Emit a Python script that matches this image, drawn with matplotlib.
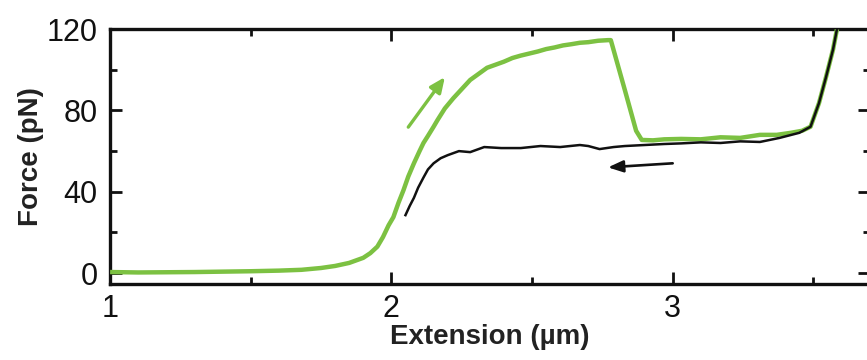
import numpy as np
import matplotlib.pyplot as plt
from matplotlib.ticker import MultipleLocator

plt.rcParams['font.family'] = ['Liberation Sans', 'DejaVu Sans']

# stretching curve (green)
stretch_x = [1.00, 1.10, 1.20, 1.30, 1.40, 1.50, 1.60, 1.68, 1.75, 1.80, 1.85, 1.90, 1.925,
             1.95, 1.97, 1.99, 2.007, 2.025, 2.043, 2.06, 2.08, 2.10, 2.114, 2.13, 2.15,
             2.164, 2.19, 2.22, 2.25, 2.28, 2.31, 2.34, 2.37, 2.40, 2.43, 2.46, 2.49,
             2.52, 2.55, 2.58, 2.61, 2.64, 2.67, 2.70, 2.735, 2.77, 2.78, 2.83, 2.87,
             2.89, 2.93, 2.97, 3.03, 3.10, 3.17, 3.24, 3.31, 3.37, 3.42, 3.46, 3.49,
             3.52, 3.545, 3.57, 3.584]
stretch_y = [0.5, 0.3, 0.4, 0.5, 0.7, 0.9, 1.2, 1.6, 2.5, 3.5, 5.0, 7.5, 9.8,
             13.0, 17.7, 23.5, 27.5, 34.5, 40.8, 47.5, 54.0, 60.0, 64.0, 67.5, 72.0,
             75.3, 81.0, 86.0, 90.5, 95.0, 98.0, 101.0, 102.5, 104.0, 105.8, 107.0, 108.0,
             109.0, 110.2, 111.0, 112.0, 112.6, 113.3, 113.6, 114.3, 114.6, 114.6, 90.0, 70.0,
             65.5, 65.3, 65.8, 66.0, 65.8, 66.8, 66.5, 68.0, 68.0, 69.0, 70.0, 72.0,
             83.6, 96.4, 110.0, 120.0]

# relaxation curve (black)
relax_x = [3.584, 3.57, 3.545, 3.52, 3.49, 3.45, 3.38, 3.31, 3.24, 3.17, 3.10, 3.03,
           2.97, 2.90, 2.83, 2.79, 2.74, 2.70, 2.67, 2.60, 2.53, 2.46, 2.39, 2.33,
           2.28, 2.24, 2.20, 2.175, 2.15, 2.13, 2.114, 2.095, 2.08, 2.065, 2.05]
relax_y = [120.0, 110.0, 96.4, 83.6, 72.0, 69.0, 66.5, 64.5, 64.8, 64.0, 64.3, 63.8,
           63.5, 63.0, 62.5, 62.0, 61.0, 62.5, 63.0, 62.0, 62.5, 61.5, 61.5, 62.0,
           59.5, 60.0, 58.0, 56.5, 54.0, 51.0, 47.0, 42.0, 37.0, 33.0, 28.5]

# direction arrows (tail, head) in data units
green_arrow = [(2.06, 71.8), (2.19, 96.4)]
black_arrow = [(3.00, 54.0), (2.77, 52.0)]

x_major = [1, 2, 3]
y_major = [0, 40, 80, 120]

green = '#7cc142'

fig = plt.figure(figsize=(8.67, 3.6), dpi=100)
ax = fig.add_axes([0.127, 0.211, 0.876, 0.708])

ax.plot(stretch_x, stretch_y, color=green, lw=3.2, solid_capstyle='butt', zorder=3)
ax.plot(relax_x, relax_y, color='#111111', lw=1.8, zorder=4)

ax.annotate('', xy=green_arrow[1], xytext=green_arrow[0],
            arrowprops=dict(arrowstyle='-|>,head_length=0.9,head_width=0.4',
                            color=green, lw=2.4, shrinkA=0, shrinkB=0))
ax.annotate('', xy=black_arrow[1], xytext=black_arrow[0],
            arrowprops=dict(arrowstyle='-|>,head_length=0.9,head_width=0.35',
                            color='#111111', lw=1.9, shrinkA=0, shrinkB=0))

ax.set_xlim(1, 3.7)
ax.set_ylim(-5.4, 120)
ax.set_xticks(x_major)
ax.set_yticks(y_major)
ax.xaxis.set_minor_locator(MultipleLocator(0.5))
ax.yaxis.set_minor_locator(MultipleLocator(20))

ax.tick_params(which='both', direction='in', top=True, right=True, width=2.0,
               labelsize=22, colors='#111111')
ax.tick_params(which='major', length=8.5)
ax.tick_params(which='minor', length=5)
ax.tick_params(axis='y', pad=9)
ax.tick_params(axis='x', pad=7)

for s in ax.spines.values():
    s.set_linewidth(2.4)
    s.set_color('#111111')

ax.set_xlabel('Extension (µm)', fontsize=20, fontweight='bold', labelpad=0, color='#222222')
ax.set_ylabel('Force (pN)', fontsize=20, fontweight='bold', labelpad=2, color='#222222')

fig.savefig('out.png', dpi=100)
